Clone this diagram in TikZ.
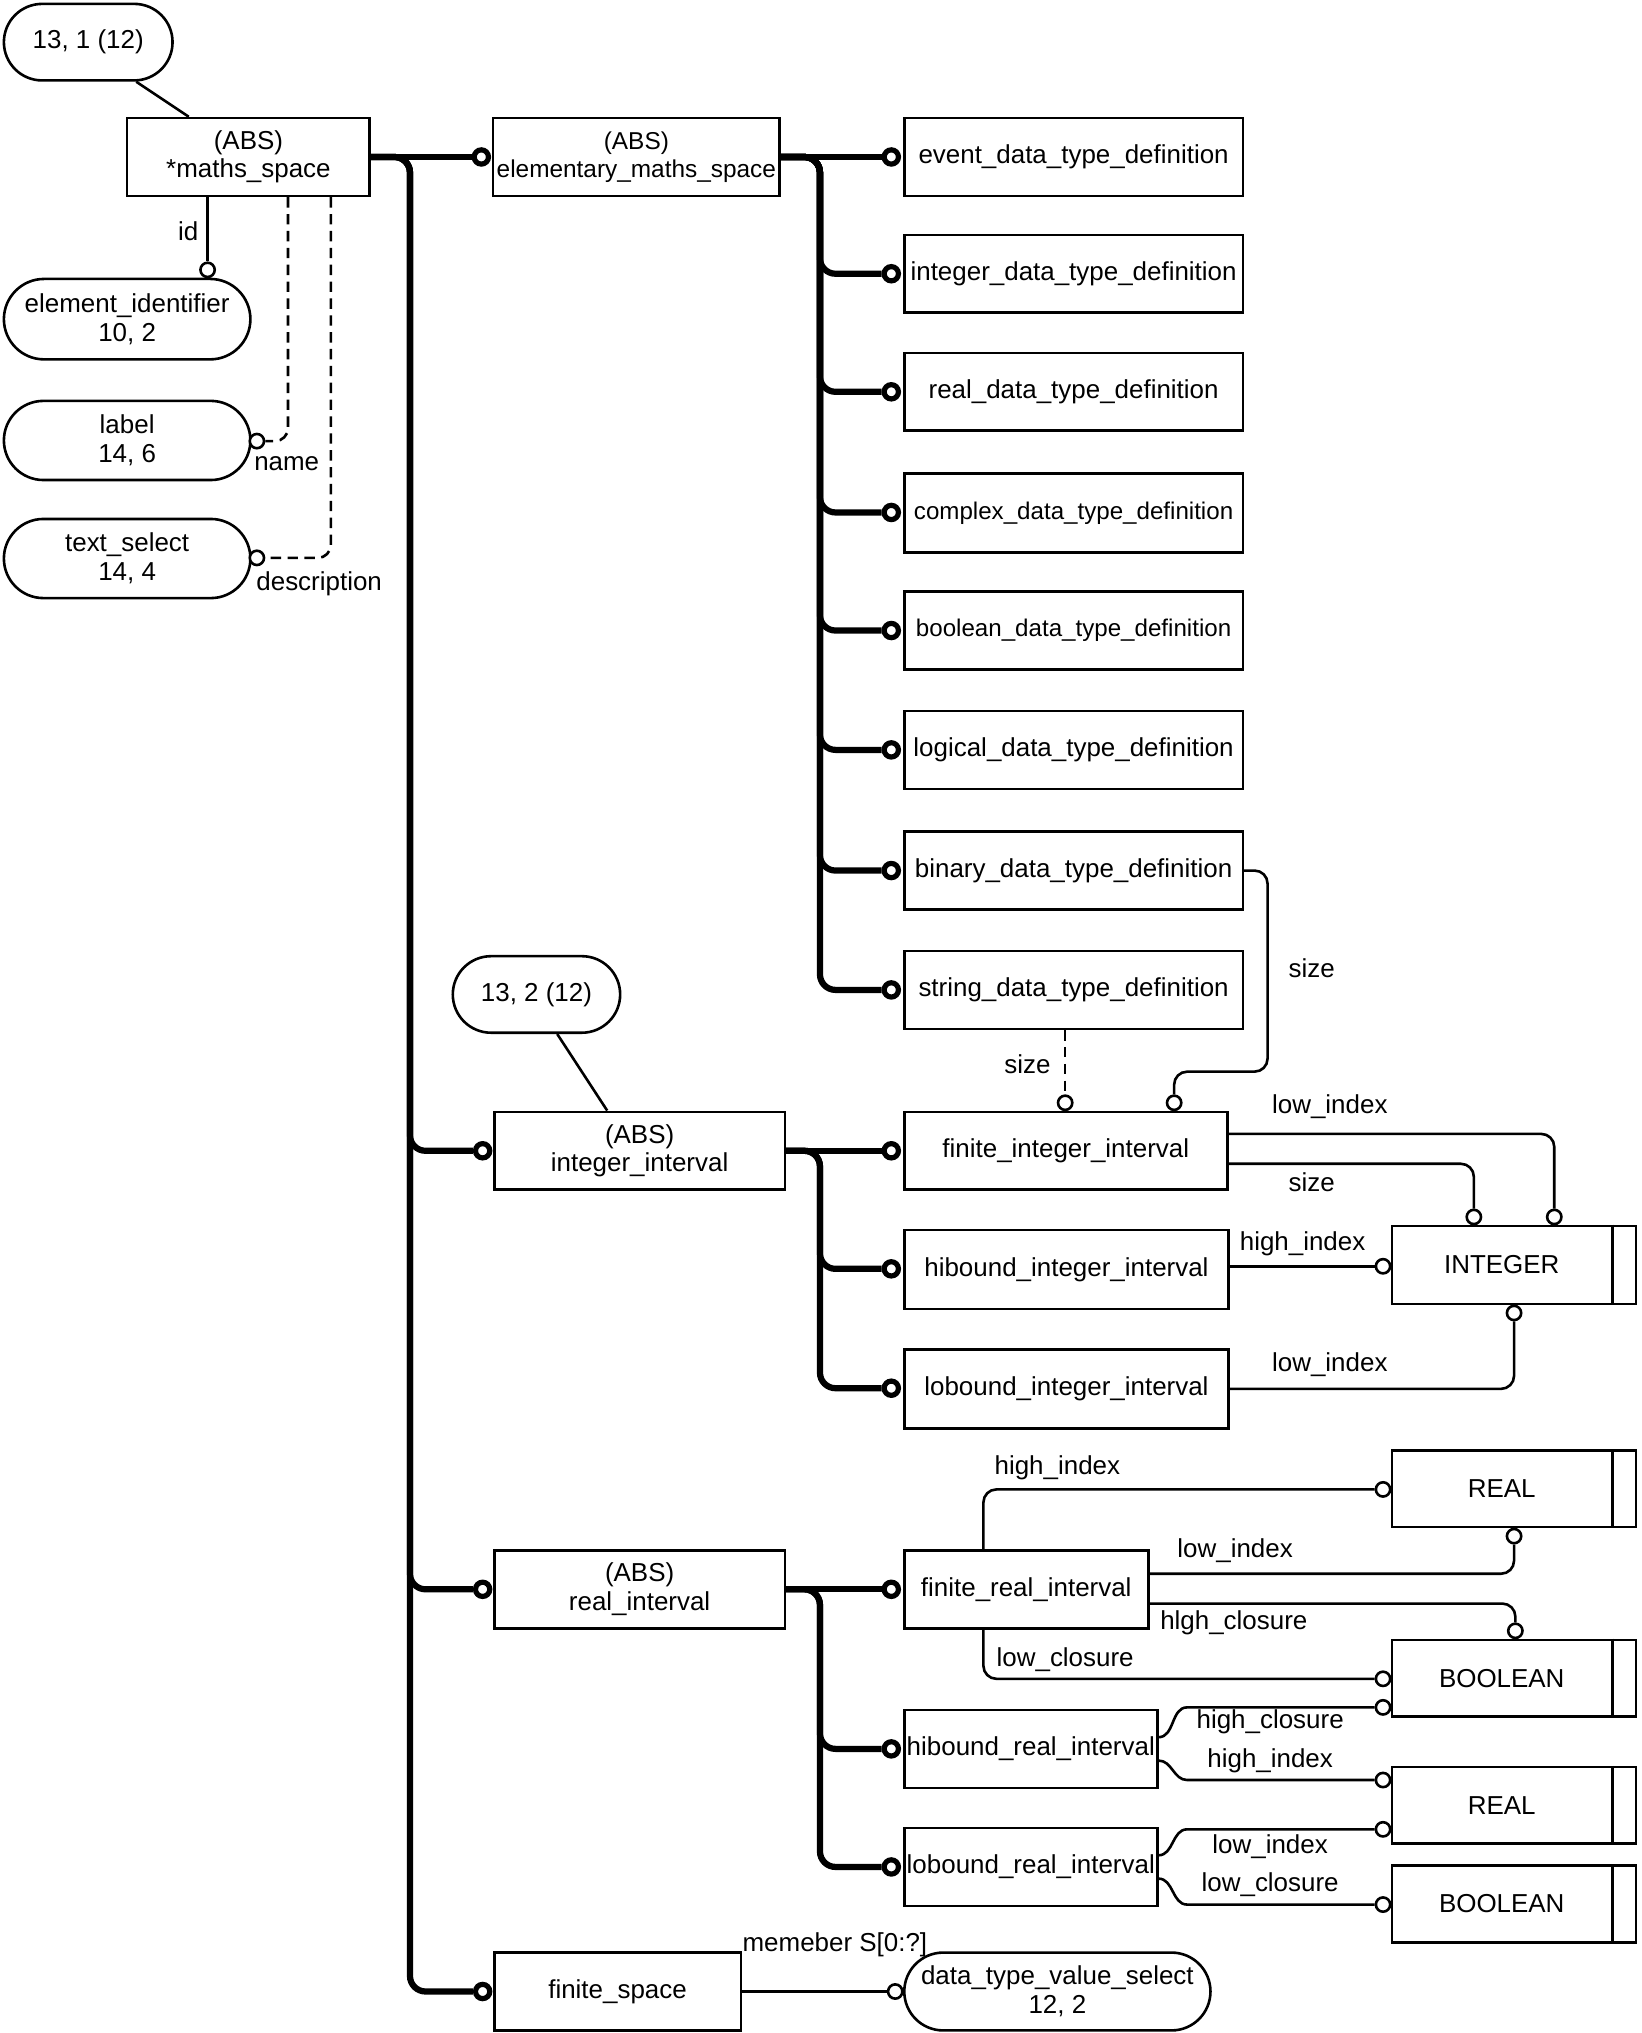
\documentclass[tikz,border=0pt]{standalone}
\usepackage{fontspec}
\setmainfont{Liberation Sans}
\usetikzlibrary{shapes.misc,calc}
\tikzset{
  ent/.style={draw, line width=1pt, inner sep=0pt, align=center, font=\fontsize{10}{11}\selectfont},
  ov/.style={ent, rounded rectangle},
  lbl/.style={inner sep=0pt, font=\fontsize{10}{11}\selectfont},
  tk/.style={line width=2.4pt, rounded corners=6pt},
  tn/.style={line width=1pt, rounded corners=5pt},
  dsh/.style={dash pattern=on 4pt off 2.5pt},
  oc/.style={circle, draw, line width=1pt, minimum size=5.5pt, inner sep=0pt, fill=white},
  toc/.style={circle, draw, line width=2pt, minimum size=5.5pt, inner sep=0pt, fill=white},
}
\newcommand\entbox[6]{\node[ent, minimum width={(#4-#2)*0.5pt}, minimum height={(#5-#3)*0.5pt}] (#1) at ({(#2+#4)/2},{(#3+#5)/2}) {#6};}
\newcommand\entoval[6]{\node[ov, minimum width={(#4-#2)*0.5pt}, minimum height={(#5-#3)*0.5pt}] (#1) at ({(#2+#4)/2},{(#3+#5)/2}) {#6};}
\newcommand\typebox[6]{\node[ent, minimum width={(#4-#2)*0.5pt}, minimum height={(#5-#3)*0.5pt}] (#1) at ({(#2+#4)/2},{(#3+#5)/2}) {};
  \draw[line width=1pt] ([xshift=-9.5pt]#1.north east) -- ([xshift=-9.5pt]#1.south east);
  \node[lbl] (#1t) at ([xshift=-4.75pt]#1.center) {#6};}
\newcommand\nar[1]{{\fontsize{9.3}{11}\selectfont #1}}
\begin{document}
\begin{tikzpicture}[x=0.5pt,y=-0.5pt]
\useasboundingbox (0,0) rectangle (1265,1567);
\fill[white] (0,0) rectangle (1265,1567);

% ovals
\entoval{o131}{3}{3}{133}{62}{13, 1 (12)}
\entoval{eid}{3}{215}{193}{277}{element\_identifier\\10, 2}
\entoval{lab}{3}{309}{193}{370}{label\\14, 6}
\entoval{tsel}{3}{400}{193}{461}{text\_select\\14, 4}
\entoval{o132}{349}{737}{478}{796}{13, 2 (12)}
\entoval{dtv}{697}{1505}{933}{1565}{data\_type\_value\_select\\12, 2}

% boxes
\entbox{maths}{98}{91}{285}{151}{(ABS)\\*maths\_space}
\node[ent, font=\fontsize{9.4}{11}\selectfont, minimum width=110.5pt, minimum height=30pt] (EMS) at (490.5,121) {(ABS)\\elementary\_maths\_space};
\entbox{event}{697}{91}{958}{151}{event\_data\_type\_definition}
\entbox{intd}{697}{181}{958}{241}{integer\_data\_type\_definition}
\entbox{reald}{697}{272}{958}{332}{real\_data\_type\_definition}
\entbox{compd}{697}{365}{958}{426}{\nar{complex\_data\_type\_definition}}
\entbox{boold}{697}{456}{958}{516}{\nar{boolean\_data\_type\_definition}}
\entbox{logd}{697}{548}{958}{608}{logical\_data\_type\_definition}
\entbox{bind}{697}{641}{958}{701}{binary\_data\_type\_definition}
\entbox{strd}{697}{733}{958}{793}{string\_data\_type\_definition}
\entbox{II}{381}{857}{605}{917}{(ABS)\\integer\_interval}
\entbox{FII}{697}{857}{946}{917}{finite\_integer\_interval}
\entbox{HII}{697}{948}{947}{1009}{hibound\_integer\_interval}
\entbox{LII}{697}{1040}{947}{1101}{lobound\_integer\_interval}
\typebox{INT}{1073}{945}{1261}{1005}{INTEGER}
\entbox{RI}{381}{1195}{605}{1255}{(ABS)\\real\_interval}
\entbox{FRI}{697}{1195}{885}{1255}{finite\_real\_interval}
\entbox{HRI}{697}{1318}{892}{1378}{hibound\_real\_interval}
\entbox{LRI}{697}{1409}{892}{1469}{lobound\_real\_interval}
\typebox{RA}{1073}{1118}{1261}{1177}{REAL}
\typebox{BA}{1073}{1264}{1261}{1323}{BOOLEAN}
\typebox{RB}{1073}{1362}{1261}{1421}{REAL}
\typebox{BB}{1073}{1438}{1261}{1497}{BOOLEAN}
\entbox{FS}{381}{1505}{571}{1565}{finite\_space}

% thin circles
\node[oc] (cid) at (160,208) {};
\node[oc] (cname) at (198,340) {};
\node[oc] (cdesc) at (198,430) {};
\node[oc] (cFIa) at (821,850) {};
\node[oc] (cFIb) at (905,850) {};
\node[oc] (cINTa) at (1136,938) {};
\node[oc] (cINTb) at (1198,938) {};
\node[oc] (cINTc) at (1066,976) {};
\node[oc] (cINTd) at (1167,1012) {};
\node[oc] (cRAa) at (1066,1148) {};
\node[oc] (cRAb) at (1167,1184) {};
\node[oc] (cBAa) at (1168,1257) {};
\node[oc] (cBAb) at (1066,1294) {};
\node[oc] (cBAc) at (1066,1316) {};
\node[oc] (cRBa) at (1066,1372) {};
\node[oc] (cRBb) at (1066,1410) {};
\node[oc] (cBBa) at (1066,1468) {};
\node[oc] (cDTV) at (690,1535) {};

% thick circles
\node[toc] (cEMS) at (371,121) {};
\node[toc] (cII) at (372,887) {};
\node[toc] (cRI) at (372,1225) {};
\node[toc] (cFS) at (372,1535) {};
\node[toc] (cEvent) at (687,121) {};
\node[toc] (cInt) at (687,211) {};
\node[toc] (cReal) at (687,302) {};
\node[toc] (cComp) at (687,395) {};
\node[toc] (cBool) at (687,486) {};
\node[toc] (cLog) at (687,578) {};
\node[toc] (cBin) at (687,671) {};
\node[toc] (cStr) at (687,763) {};
\node[toc] (cFII) at (687,887) {};
\node[toc] (cHII) at (687,978) {};
\node[toc] (cLII) at (687,1070) {};
\node[toc] (cFRI) at (687,1225) {};
\node[toc] (cHRI) at (687,1348) {};
\node[toc] (cLRI) at (687,1439) {};

% trunk coordinates
\coordinate (tA) at (316,0);
\coordinate (tE) at (632,0);
\coordinate (tN) at (222,0);
\coordinate (tD) at (255,0);
\coordinate (tR) at (758,0);
\coordinate (kB) at (977,826);
\coordinate (sX) at (915,0);

% thick connectors
\draw[tk] (maths.east) -- (cEMS.west);
\foreach \c in {cII,cRI,cFS} \draw[tk] (maths.east) -- (maths.east -| tA) |- (\c.west);
\draw[tk] (EMS.east) -- (cEvent.west);
\foreach \c in {cInt,cReal,cComp,cBool,cLog,cBin,cStr} \draw[tk] (EMS.east) -- (EMS.east -| tE) |- (\c.west);
\draw[tk] (II.east) -- (cFII.west);
\foreach \c in {cHII,cLII} \draw[tk] (II.east) -- (II.east -| tE) |- (\c.west);
\draw[tk] (RI.east) -- (cFRI.west);
\foreach \c in {cHRI,cLRI} \draw[tk] (RI.east) -- (RI.east -| tE) |- (\c.west);

% ovals attachments
\draw[line width=1pt] ([xshift=18.5pt]o131.south) -- ([xshift=-23pt]maths.north);
\draw[line width=1pt] ([xshift=8pt]o132.south) -- ([xshift=-12.5pt]II.north);

% thin connectors
\draw[tn] (maths.south -| cid) -- (cid.north);
\draw[tn,dsh] (maths.south -| tN) |- (cname.east);
\draw[tn,dsh] (maths.south -| tD) |- (cdesc.east);
\draw[tn] (bind.east) -| (kB) -| (cFIb.north);
\draw[tn,dsh] (strd.south -| cFIa) -- (cFIa.north);
\draw[tn] ([yshift=6.5pt]FII.east) -| (cINTb.north);
\draw[tn] ([yshift=-5pt]FII.east) -| (cINTa.north);
\draw[tn] (cINTc.west -| HII.east) -- (cINTc.west);
\draw[tn] (LII.east) -| (cINTd.south);
\draw[tn] (FRI.north -| tR) |- (cRAa.west);
\draw[tn] ([yshift=6pt]FRI.east) -| (cRAb.south);
\draw[tn] ([yshift=-5.5pt]FRI.east) -| (cBAa.north);
\draw[tn] (FRI.south -| tR) |- (cBAb.west);
\draw[line width=1pt] ([yshift=4.5pt]HRI.east) to[out=0,in=180] (cBAc.west -| sX) -- (cBAc.west);
\draw[line width=1pt] ([yshift=-4.5pt]HRI.east) to[out=0,in=180] (cRBa.west -| sX) -- (cRBa.west);
\draw[line width=1pt] ([yshift=4.5pt]LRI.east) to[out=0,in=180] (cRBb.west -| sX) -- (cRBb.west);
\draw[line width=1pt] ([yshift=-4.5pt]LRI.east) to[out=0,in=180] (cBBa.west -| sX) -- (cBBa.west);
\draw[line width=1pt] (FS.east) -- (cDTV.west);

% labels
\node[lbl] (lid) at (145,178) {id};
\node[lbl] (lname) at (221,357) {name};
\node[lbl] (ldesc) at (246,450) {description};
\node[lbl] (lsz1) at (1011,746) {size};
\node[lbl] (lsz2) at (792,820) {size};
\node[lbl] (llo1) at (1025,853) {low\_index};
\node[lbl] (lsz3) at (1011,911) {size};
\node[lbl] (lhi1) at (1004,959) {high\_index};
\node[lbl] (llo2) at (1025,1052) {low\_index};
\node[lbl] (lhi2) at (815,1131) {high\_index};
\node[lbl] (llo3) at (952,1195) {low\_index};
\node[lbl] (lhc1) at (951,1251) {hlgh\_closure};
\node[lbl] (llc1) at (821,1279) {low\_closure};
\node[lbl] (lhc2) at (979,1327) {high\_closure};
\node[lbl] (lhi3) at (979,1357) {high\_index};
\node[lbl] (llo4) at (979,1423) {low\_index};
\node[lbl] (llc2) at (979,1453) {low\_closure};
\node[lbl, anchor=west] (lmem) at (572,1499) {memeber S[0:?]};
\end{tikzpicture}
\end{document}
